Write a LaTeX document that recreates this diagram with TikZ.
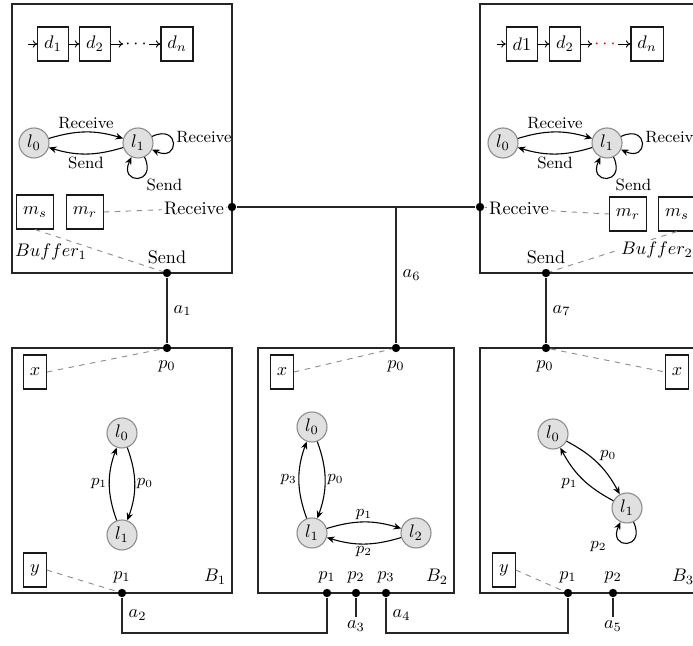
\documentclass[tikz,border=0pt]{standalone}
\usetikzlibrary{arrows.meta}
\begin{document}
\begin{tikzpicture}[x=0.55pt,y=0.55pt,
  box/.style={draw=black!85,line width=0.7pt},
  wire/.style={draw=black!85,line width=0.7pt},
  dbox/.style={draw=black!90,line width=0.6pt,minimum height=18.7pt,inner sep=3.5pt},
  state/.style={circle,draw=black!45,fill=black!12,line width=0.6pt,minimum size=16.5pt,inner sep=0pt},
  port/.style={circle,fill=black,inner sep=0pt,minimum size=4.6pt},
  dline/.style={dashed,draw=black!45,line width=0.5pt},
  trans/.style={-{Stealth[length=4.2pt,width=3.6pt]},line width=0.6pt},
  small arrow/.style={-{To[length=2.5pt,width=4pt]},line width=0.5pt},
  tl/.style={font=\small,inner sep=1.5pt},
  pl/.style={font=\small,inner sep=1pt}]
\clip (0,0) rectangle (693,-646);

% ===== top-left buffer =====
\draw[box] (12,-4) rectangle (232,-273);
\coordinate (dinL) at (28,-44);
\node[dbox] (dL1) at (53,-44) {$d_1$};
\node[dbox] (dL2) at (95,-44) {$d_2$};
\node[inner sep=1pt] (dLdots) at (136,-44) {$\cdots$};
\node[dbox] (dLn) at (177,-44) {$d_n$};
\draw[small arrow] (dinL) -- (dL1);
\draw[small arrow] (dL1) -- (dL2);
\draw[small arrow] (dL2) -- (dLdots);
\draw[small arrow] (dLdots) -- (dLn);

\node[state] (bl0) at (34,-143) {$l_0$};
\node[state] (bl1) at (138,-143) {$l_1$};
\draw[trans] (bl0) to[bend left=17] node[tl,above]{Receive} (bl1);
\draw[trans] (bl1) to[bend left=17] node[tl,below]{Send} (bl0);
\draw[trans] (bl1) to[out=25,in=-25,looseness=6] node[tl,right,yshift=3pt]{Receive} (bl1);
\draw[trans] (bl1) to[out=-65,in=-115,looseness=6] node[tl,right,xshift=3pt,yshift=-4pt]{Send} (bl1);

\node[dbox] (msL) at (35,-212) {$m_s$};
\node[dbox] (mrL) at (85,-212) {$m_r$};
\node[port] (rcvL) at (232,-207) {};
\node[port] (sndL) at (167,-273) {};
\draw[dline] (mrL.east) -- (rcvL);
\draw[dline] (msL.south) -- (sndL);
\node[fill=white,inner sep=1pt,anchor=east] (rcvLlab) at (226,-208) {Receive};
\node[anchor=west,inner sep=1pt] (bufL) at (13,-252) {$Buffer_1$};
\node (sndLlab) at (167,-257) {Send};

% ===== top-right buffer =====
\draw[box] (480,-4) rectangle (720,-273);
\coordinate (dinR) at (497,-44);
\node[dbox] (dR1) at (522,-44) {$d1$};
\node[dbox] (dR2) at (565,-44) {$d_2$};
\node[inner sep=1pt,text=red] (dRdots) at (605,-44) {$\cdots$};
\node[dbox] (dRn) at (647,-44) {$d_n$};
\draw[small arrow] (dinR) -- (dR1);
\draw[small arrow] (dR1) -- (dR2);
\draw[small arrow] (dR2) -- (dRdots);
\draw[small arrow] (dRdots) -- (dRn);

\node[state] (br0) at (503,-143) {$l_0$};
\node[state] (br1) at (607,-143) {$l_1$};
\draw[trans] (br0) to[bend left=17] node[tl,above]{Receive} (br1);
\draw[trans] (br1) to[bend left=17] node[tl,below]{Send} (br0);
\draw[trans] (br1) to[out=25,in=-25,looseness=6] node[tl,right,yshift=3pt]{Receive} (br1);
\draw[trans] (br1) to[out=-65,in=-115,looseness=6] node[tl,right,xshift=3pt,yshift=-4pt]{Send} (br1);

\node[dbox] (mrR) at (628,-214) {$m_r$};
\node[dbox] (msR) at (677,-214) {$m_s$};
\node[port] (rcvR) at (480,-207) {};
\node[port] (sndR) at (546,-273) {};
\draw[dline] (rcvR) -- (mrR.west);
\draw[dline] (msR.south) -- (sndR);
\node[fill=white,inner sep=1pt,anchor=west] (rcvRlab) at (487,-208) {Receive};
\node[anchor=west,fill=white,inner sep=1pt] (bufR) at (619,-250) {$Buffer_2$};
\node (sndRlab) at (546,-257) {Send};

% ===== B1 =====
\draw[box] (12,-348) rectangle (232,-593);
\node[port] (b1p0) at (167,-348) {};
\node[port] (b1p1) at (122,-593) {};
\node at (167,-366) {$p_0$};
\node at (122,-577) {$p_1$};
\node at (215,-577) {$B_1$};
\node[dbox] (b1x) at (35,-372) {$x$};
\node[dbox] (b1y) at (35,-570) {$y$};
\draw[dline] (b1x.east) -- (b1p0);
\draw[dline] (b1y.east) -- (b1p1);
\node[state] (c0) at (122,-433) {$l_0$};
\node[state] (c1) at (122,-535) {$l_1$};
\draw[trans] (c1) to[bend left=20] node[pl,left]{$p_1$} (c0);
\draw[trans] (c0) to[bend left=20] node[pl,right]{$p_0$} (c1);

% ===== B2 =====
\draw[box] (258,-348) rectangle (454,-593);
\node[port] (b2p0) at (396,-348) {};
\node[port] (b2p1) at (327,-593) {};
\node[port] (b2p2) at (356,-593) {};
\node[port] (b2p3) at (386,-593) {};
\node at (396,-366) {$p_0$};
\node at (327,-577) {$p_1$};
\node at (356,-577) {$p_2$};
\node at (386,-577) {$p_3$};
\node at (437,-577) {$B_2$};
\node[dbox] (b2x) at (282,-372) {$x$};
\draw[dline] (b2x.east) -- (b2p0);
\node[state] (e0) at (312,-427) {$l_0$};
\node[state] (e1) at (312,-533) {$l_1$};
\node[state] (e2) at (416,-533) {$l_2$};
\draw[trans] (e1) to[bend left=20] node[pl,left]{$p_3$} (e0);
\draw[trans] (e0) to[bend left=20] node[pl,right]{$p_0$} (e1);
\draw[trans] (e1) to[bend left=17] node[pl,above]{$p_1$} (e2);
\draw[trans] (e2) to[bend left=17] node[pl,below]{$p_2$} (e1);

% ===== B3 =====
\draw[box] (480,-348) rectangle (720,-593);
\node[port] (b3p0) at (546,-348) {};
\node[port] (b3p1) at (568,-593) {};
\node[port] (b3p2) at (613,-593) {};
\node at (545,-366) {$p_0$};
\node at (568,-577) {$p_1$};
\node at (613,-577) {$p_2$};
\node at (683,-577) {$B_3$};
\node[dbox] (b3x) at (677,-372) {$x$};
\node[dbox] (b3y) at (504,-570) {$y$};
\draw[dline] (b3p0) -- (b3x.west);
\draw[dline] (b3y.east) -- (b3p1);
\node[state] (g0) at (553,-434) {$l_0$};
\node[state] (g1) at (627,-508) {$l_1$};
\draw[trans] (g0) to[bend left=17] node[pl,above right,pos=0.5]{$p_0$} (g1);
\draw[trans] (g1) to[bend left=17] node[pl,below left,pos=0.55]{$p_1$} (g0);
\draw[trans] (g1) to[out=-65,in=-115,looseness=6] node[pl,left,xshift=-10pt,yshift=-2pt]{$p_2$} (g1);

% ===== wires =====
\draw[wire] (rcvL) -- (rcvR);
\coordinate (j6) at (rcvL -| b2p0);
\draw[wire] (j6) -- node[right]{$a_6$} (b2p0);
\draw[wire] (sndL) -- node[right]{$a_1$} (b1p0);
\draw[wire] (sndR) -- node[right]{$a_7$} (b3p0);
\coordinate (a2c) at (122,-633);
\draw[wire] (b1p1) -- node[right]{$a_2$} (a2c) -| (b2p1);
\coordinate (a4c) at (386,-633);
\draw[wire] (b2p3) -- node[right]{$a_4$} (a4c) -| (b3p1);
\coordinate (a3c) at (356,-617);
\draw[wire] (b2p2) -- (a3c);
\node[below,inner sep=2pt] (a3l) at (a3c) {$a_3$};
\coordinate (a5c) at (613,-617);
\draw[wire] (b3p2) -- (a5c);
\node[below,inner sep=2pt] (a5l) at (a5c) {$a_5$};
\end{tikzpicture}
\end{document}
